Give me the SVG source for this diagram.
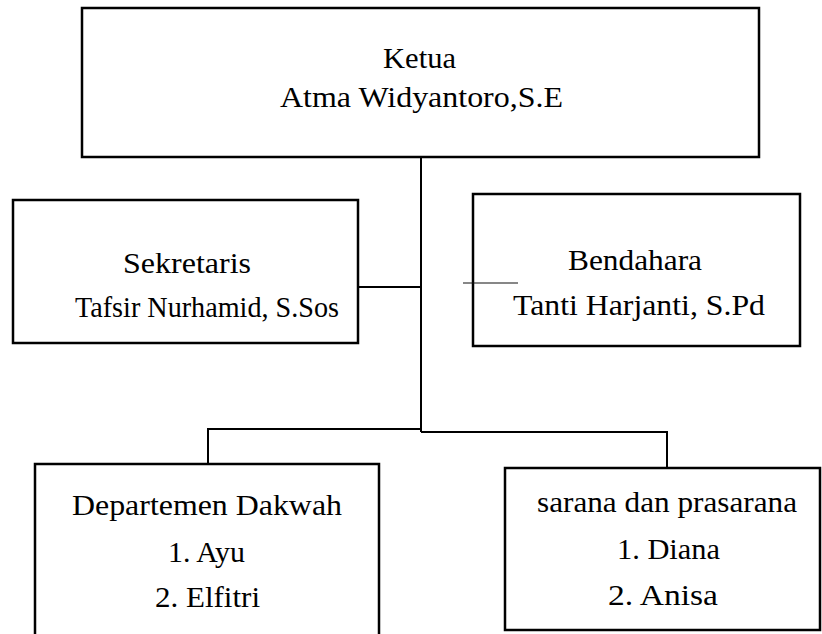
<svg xmlns="http://www.w3.org/2000/svg" width="822" height="634" viewBox="0 0 822 634">
<style>
.box{fill:#fff;stroke:#000;stroke-width:2.5}
.t{font-family:'Liberation Serif','Times New Roman',Times,serif;font-size:30px;fill:#000}
.c{fill:none;stroke:#000;stroke-width:2}
</style>
<rect width="822" height="634" fill="#fff"/>
<g id="ketua">
<rect class="box" x="82" y="8" width="677" height="149"/>
<text class="t" x="383" y="68" textLength="73" lengthAdjust="spacingAndGlyphs">Ketua</text>
<text class="t" x="280" y="107" textLength="283" lengthAdjust="spacingAndGlyphs">Atma Widyantoro,S.E</text>
</g>
<g id="sekretaris">
<rect class="box" x="13" y="200" width="345" height="143"/>
<text class="t" x="123" y="273" textLength="128" lengthAdjust="spacingAndGlyphs">Sekretaris</text>
<text class="t" x="75" y="317" textLength="264" lengthAdjust="spacingAndGlyphs">Tafsir Nurhamid, S.Sos</text>
</g>
<g id="bendahara">
<rect class="box" x="473" y="194" width="327" height="152"/>
<text class="t" x="568" y="270" textLength="134" lengthAdjust="spacingAndGlyphs">Bendahara</text>
<text class="t" x="513" y="315" textLength="252" lengthAdjust="spacingAndGlyphs">Tanti Harjanti, S.Pd</text>
</g>
<g id="dakwah">
<rect class="box" x="35" y="464" width="344" height="190"/>
<text class="t" x="72" y="515" textLength="270" lengthAdjust="spacingAndGlyphs">Departemen Dakwah</text>
<text class="t" x="168" y="562" textLength="77" lengthAdjust="spacingAndGlyphs">1. Ayu</text>
<text class="t" x="155" y="607" textLength="105" lengthAdjust="spacingAndGlyphs">2. Elfitri</text>
</g>
<g id="sarana">
<rect class="box" x="505" y="468" width="315" height="162"/>
<text class="t" x="537" y="512" textLength="260" lengthAdjust="spacingAndGlyphs">sarana dan prasarana</text>
<text class="t" x="617" y="559" textLength="103" lengthAdjust="spacingAndGlyphs">1. Diana</text>
<text class="t" x="608" y="605" textLength="110" lengthAdjust="spacingAndGlyphs">2. Anisa</text>
</g>
<g id="connectors">
<path class="c" d="M421,157 V432"/>
<path class="c" d="M358,287 H421"/>
<path class="c" d="M421,429 H208 V464"/>
<path class="c" d="M421,432 H667 V468"/>
<line x1="463" y1="283" x2="518" y2="283" stroke="#111" stroke-width="1.2"/>
</g>
</svg>
